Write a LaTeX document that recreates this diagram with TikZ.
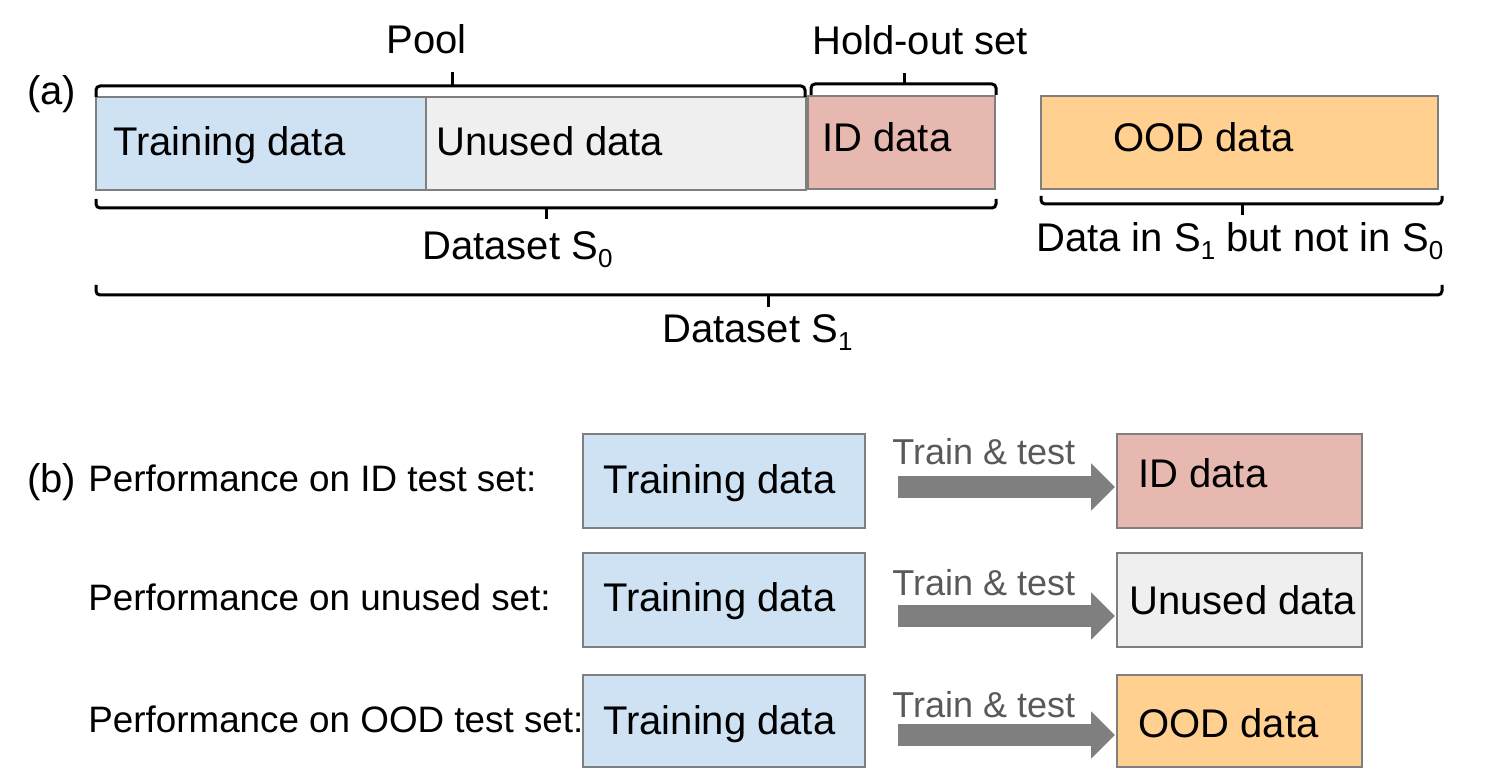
\documentclass[tikz,border=0pt]{standalone}
\usepackage{fontspec}
\setmainfont{Liberation Sans}
\usetikzlibrary{arrows.meta,calc,fit}
\definecolor{trainblue}{HTML}{CFE2F3}
\definecolor{unusedgray}{HTML}{EFEFEF}
\definecolor{idred}{HTML}{E6B8AF}
\definecolor{oodorange}{HTML}{FFD08F}
\definecolor{boxborder}{HTML}{7F7F7F}
\definecolor{arrowgray}{HTML}{7F7F7F}
\definecolor{labelgray}{HTML}{595959}
\newcommand\sbs[1]{\raisebox{-4pt}{\fontsize{13pt}{13pt}\selectfont #1}}
\tikzset{
  box/.style={draw=boxborder, line width=1pt, inner sep=0pt, rectangle},
  bigtxt/.style={font=\fontsize{20pt}{24pt}\selectfont, inner sep=0pt, anchor=base west},
  lbltxt/.style={font=\fontsize{18.4pt}{22pt}\selectfont, inner sep=0pt, anchor=base west},
  traintxt/.style={font=\fontsize{18pt}{21pt}\selectfont, text=labelgray, inner sep=0pt, anchor=base west},
  bracket/.style={draw=black, line width=1.5pt, rounded corners=2pt},
  fatarrow/.style={draw=arrowgray, line width=11pt, line cap=butt, -{Triangle[length=12pt, width=23pt]}}
}
\begin{document}
\begin{tikzpicture}[x=0.5pt, y=-0.5pt]
\path[use as bounding box] (0,0) rectangle (1490,774);

% ---------- (a) ----------
\node[bigtxt] (alab) at (27,105) {(a)};
\node[box, fill=trainblue, fit={(96,97)(426,190)}] (atrain) {};
\node[box, fill=unusedgray, fit={(426,97)(806,190)}] (aunused) {};
\node[box, fill=idred, fit={(808,96)(995,189)}] (aid) {};
\node[box, fill=oodorange, fit={(1041,96)(1438,189)}] (aood) {};
\node[bigtxt] (atraintxt) at (113,156) {Training data};
\node[bigtxt] (aunusedtxt) at (436,156) {Unused data};
\node[bigtxt] (aidtxt) at (822,152) {ID data};
\node[bigtxt] (aoodtxt) at (1113,152) {OOD data};

% brackets
\draw[bracket] (96,97) -- (96,86) -- (805,86) -- (805,97);
\draw[bracket] (452,86) -- (452,72);
\node[bigtxt] (pool) at (386,54) {Pool};

\draw[bracket] (811,95) -- (811,84) -- (996,84) -- (996,95);
\draw[bracket] (904,84) -- (904,73);
\node[bigtxt] (hold) at (812,55) {Hold-out set};

\draw[bracket] (96,199) -- (96,208) -- (996,208) -- (996,199);
\draw[bracket] (546,208) -- (546,219);
\node[bigtxt] (ds0) at (422,260) {Dataset S\sbs{0}};

\draw[bracket] (1041,196) -- (1041,204) -- (1442,204) -- (1442,196);
\draw[bracket] (1242,204) -- (1242,215);
\node[bigtxt] (dnot) at (1036,252) {Data in S\sbs{1} but not in S\sbs{0}};

\draw[bracket] (96,285) -- (96,295) -- (1442,295) -- (1442,285);
\draw[bracket] (768,295) -- (768,307);
\node[bigtxt] (ds1) at (662,343) {Dataset S\sbs{1}};

% ---------- (b) ----------
\node[bigtxt] (blab) at (27,493) {(b)};
\node[lbltxt] (perf1) at (88,492) {Performance on ID test set:};
\node[lbltxt] (perf2) at (88,611) {Performance on unused set:};
\node[lbltxt] (perf3) at (88,733) {Performance on OOD test set:};

\node[box, fill=trainblue, fit={(583,434)(865,528)}] (tb1) {};
\node[box, fill=trainblue, fit={(583,553)(865,647)}] (tb2) {};
\node[box, fill=trainblue, fit={(583,675)(865,767)}] (tb3) {};
\node[bigtxt] (tb1txt) at (603,494) {Training data};
\node[bigtxt] (tb2txt) at (603,612) {Training data};
\node[bigtxt] (tb3txt) at (603,735) {Training data};

\node[box, fill=idred, fit={(1117,434)(1362,528)}] (bid) {};
\node[box, fill=unusedgray, fit={(1117,553)(1362,647)}] (bunused) {};
\node[box, fill=oodorange, fit={(1117,675)(1362,767)}] (bood) {};
\node[bigtxt] (bidtxt) at (1138,488) {ID data};
\node[bigtxt] (bunusedtxt) at (1129,615) {Unused data};
\node[bigtxt] (boodtxt) at (1138,738) {OOD data};

\draw[fatarrow] ($(tb1.east)+(32,6)$) -- ($(bid.west)+(-1,6)$);
\draw[fatarrow] ($(tb2.east)+(32,16)$) -- ($(bunused.west)+(-1,16)$);
\draw[fatarrow] ($(tb3.east)+(32,14)$) -- ($(bood.west)+(-1,14)$);
\node[traintxt] (tt1) at (892,465) {Train \& test};
\node[traintxt] (tt2) at (892,596) {Train \& test};
\node[traintxt] (tt3) at (892,718) {Train \& test};
\end{tikzpicture}
\end{document}
